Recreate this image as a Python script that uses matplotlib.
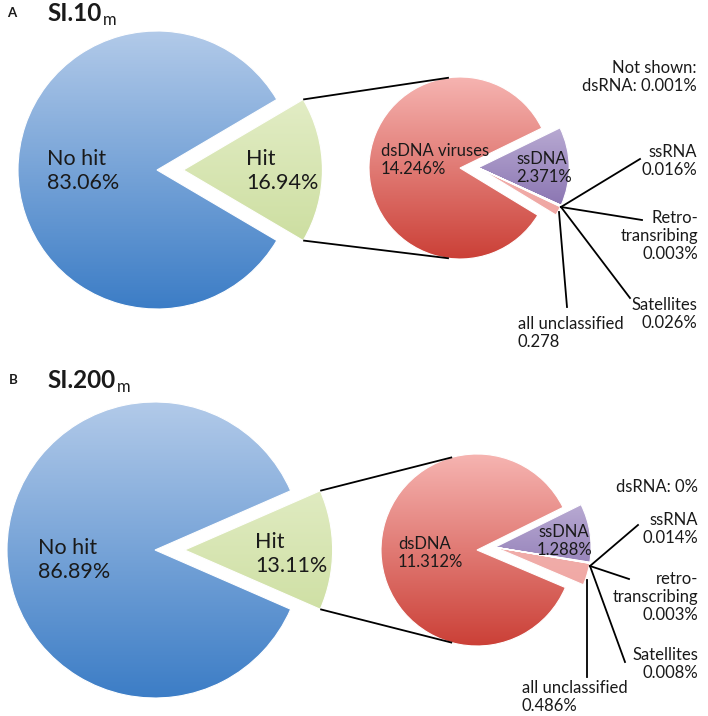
import numpy as np
import matplotlib
matplotlib.use("Agg")
import matplotlib.pyplot as plt
from matplotlib.colors import LinearSegmentedColormap

# ---------------- data ----------------
outer_labels = ["Hit", "No hit"]
a_outer_values = [16.94, 83.06]
b_outer_values = [13.11, 86.89]

inner_keys = ["ssDNA", "dsDNA", "unclassified", "Satellites", "Retro", "ssRNA", "dsRNA"]
a_inner_values = [2.371, 14.246, 0.278, 0.026, 0.003, 0.016, 0.001]
b_inner_values = [1.288, 11.312, 0.486, 0.008, 0.003, 0.014, 0.0]

a_title = "SI.10"
b_title = "SI.200"

# ---------------- style ----------------
W, H = 708, 716
FONT = ["Lato", "DejaVu Sans"]
plt.rcParams["font.family"] = FONT
TXT = "#1a1a1a"

grad = {
    "No hit": ("#b2cae9", "#3c7dc6"),
    "Hit": ("#ecf3d6", "#c3d890"),
    "dsDNA": ("#f6b4b1", "#cb4037"),
    "ssDNA": ("#d5cbe7", "#6c529c"),
    "unclassified": ("#f4bdba", "#ee9f9b"),
    "Satellites": ("#8cc4d8", "#6aaac4"),
    "Retro": ("#8cc4d8", "#6aaac4"),
    "ssRNA": ("#8cc4d8", "#6aaac4"),
    "dsRNA": ("#8cc4d8", "#6aaac4"),
}

fig = plt.figure(figsize=(W / 100, H / 100), dpi=100)
ax = fig.add_axes([0, 0, 1, 1])
ax.set_xlim(0, W)
ax.set_ylim(0, H)
ax.axis("off")


def Y(py):
    return H - py


def fill_gradient(wedges, keys, r):
    for w, k in zip(wedges, keys):
        top, bot = grad[k]
        cmap = LinearSegmentedColormap.from_list(k, [bot, top])
        g = np.linspace(1, 0, 256).reshape(-1, 1)
        wc = w.center
        im = ax.imshow(g, cmap=cmap, aspect="auto", interpolation="bilinear",
                       extent=(wc[0] - r, wc[0] + r, wc[1] - r, wc[1] + r),
                       origin="upper", zorder=1)
        im.set_clip_path(w)
        w.set_facecolor("none")
        w.set_zorder(2)


def txt(px, py, s, ha="left", size=12, ls=1.15, **kw):
    return ax.text(px, Y(py), s, ha=ha, va="center", fontsize=size,
                   color=TXT, linespacing=ls, **kw)


def panel(outer_vals, inner_vals, oc, orad, oexp, ic, irad, istart, iexp, conn_ang,
          letter, letter_pos, title, title_pos):
    # outer pie (explode given as fraction of radius)
    hit_deg = outer_vals[0] / sum(outer_vals) * 360
    ow, _ = ax.pie(outer_vals, center=(oc[0], Y(oc[1])), radius=orad,
                   startangle=-hit_deg / 2, explode=[oexp * orad, 0], counterclock=True,
                   frame=True, wedgeprops=dict(edgecolor="white", linewidth=0.8))
    fill_gradient(ow, outer_labels, orad)

    # inner pie: all minor slices are pulled out together, in the ssDNA direction
    vals = [v for v in inner_vals if v > 0]
    keys = [k for k, v in zip(inner_keys, inner_vals) if v > 0]
    iw, _ = ax.pie(vals, center=(ic[0], Y(ic[1])), radius=irad,
                   startangle=istart, counterclock=True, frame=True,
                   wedgeprops=dict(edgecolor="white", linewidth=0.8))
    ss = iw[keys.index("ssDNA")]
    mid = np.deg2rad(0.5 * (ss.theta1 + ss.theta2))
    dx, dy = iexp * irad * np.cos(mid), iexp * irad * np.sin(mid)
    for w, k in zip(iw, keys):
        if k != "dsDNA":
            w.set_center((ic[0] + dx, Y(ic[1]) + dy))
    fill_gradient(iw, keys, irad)

    # connector lines from hit wedge corners to inner pie
    hw = ow[0]
    for sgn, ang in ((1, conn_ang[0]), (-1, conn_ang[1])):
        a0 = np.deg2rad(sgn * hit_deg / 2)
        x0 = hw.center[0] + orad * np.cos(a0)
        y0 = hw.center[1] + orad * np.sin(a0)
        a1 = np.deg2rad(ang)
        x1 = ic[0] + irad * np.cos(a1)
        y1 = Y(ic[1]) + irad * np.sin(a1)
        ax.plot([x0, x1], [y0, y1], color="black", lw=1.3, zorder=3,
                solid_capstyle="butt")

    ax.text(letter_pos[0], Y(letter_pos[1]), letter, fontsize=9.5, fontweight="bold",
            ha="left", va="center", color=TXT)
    t = ax.text(title_pos[0], Y(title_pos[1]), title, fontsize=17.5, fontweight="bold",
                ha="left", va="baseline", color=TXT)
    ax.annotate("m", xy=(1, 0), xycoords=t, xytext=(1, 0), textcoords="offset points",
                fontsize=12, ha="left", va="baseline", color=TXT)
    return ow, iw


def leader(p0, p1):
    ax.plot([p0[0], p1[0]], [Y(p0[1]), Y(p1[1])], color="black", lw=1.3, zorder=3)


# ---------------- panel A ----------------
ow, iw = panel(a_outer_values, a_inner_values, oc=(157, 170), orad=139, oexp=0.19,
               ic=(460, 168), irad=91, istart=-24.4, iexp=0.2, conn_ang=(97, 263),
               letter="A", letter_pos=(7, 13), title=a_title, title_pos=(47, 21))
txt(47, 171, "No hit\n83.06%", size=15.5, ls=1.2)
txt(246, 171, "Hit\n16.94%", size=15.5, ls=1.2)
txt(381, 160, "dsDNA viruses\n14.246%", size=12)
txt(516, 168, "ssDNA\n2.371%", size=12)

A0 = (561, 207)
leader(A0, (640, 159))
leader(A0, (642, 220))
leader(A0, (630, 298))
leader((559, 212), (567, 307))
txt(697, 77, "Not shown:\ndsRNA: " + f"{a_inner_values[6]:.3f}%", ha="right")
txt(697, 161, f"ssRNA\n{a_inner_values[5]:.3f}%", ha="right")
txt(698, 236, f"Retro-\ntransribing\n{a_inner_values[4]:.3f}%", ha="right")
txt(697, 314, f"Satellites\n{a_inner_values[3]:.3f}%", ha="right")
txt(518, 333, f"all unclassified\n{a_inner_values[2]:.3f}", ha="left")

# ---------------- panel B ----------------
ow, iw = panel(b_outer_values, b_inner_values, oc=(155, 550), orad=148, oexp=0.2,
               ic=(477, 550), irad=96, istart=-9.0, iexp=0.19, conn_ang=(105, 255),
               letter="B", letter_pos=(9, 380), title=b_title, title_pos=(47, 388))
txt(38, 560, "No hit\n86.89%", size=15.5, ls=1.2)
txt(255, 554, "Hit\n13.11%", size=15.5, ls=1.2)
txt(398, 553, "dsDNA\n11.312%", size=12)
txt(564, 541, "ssDNA\n1.288%", size=12, ha="center")

B0 = (590, 566)
leader(B0, (638, 525))
leader(B0, (629, 579))
leader(B0, (625, 662))
leader((587, 580), (587, 677))
txt(698, 487, f"dsRNA: {b_inner_values[6]:.0f}%", ha="right")
txt(698, 529, f"ssRNA\n{b_inner_values[5]:.3f}%", ha="right")
txt(698, 597, f"retro-\ntranscribing\n{b_inner_values[4]:.3f}%", ha="right")
txt(698, 664, f"Satellites\n{b_inner_values[3]:.3f}%", ha="right")
txt(522, 697, f"all unclassified\n{b_inner_values[2]:.3f}%", ha="left")

ax.set_xlim(0, W)
ax.set_ylim(0, H)
ax.set_aspect("equal")
ax.axis("off")
fig.savefig("out.png", dpi=100, facecolor="white")
